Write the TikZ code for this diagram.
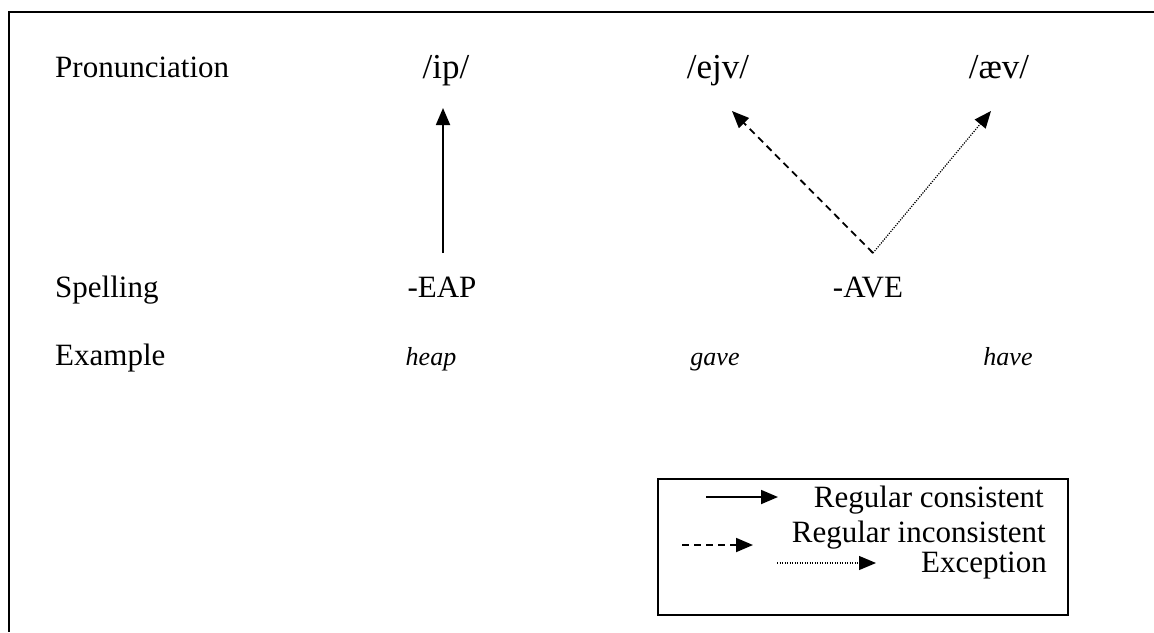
\documentclass[tikz,border=0pt]{standalone}
\usepackage{fontspec}
\setmainfont{Liberation Serif}
\usetikzlibrary{arrows.meta}
\begin{document}
\begin{tikzpicture}[x=1pt,y=-1pt,
  lbl/.style={inner sep=0pt,font=\fontsize{31}{35}\selectfont},
  phon/.style={inner sep=0pt,font=\fontsize{35}{39}\selectfont},
  exw/.style={inner sep=0pt,font=\fontsize{26}{30}\selectfont\itshape},
  tip/.style={-{Triangle[length=17pt,width=14pt]}},
  regcons/.style={tip,line width=1.8pt},
  reginc/.style={tip,line width=1.8pt,dash pattern=on 7pt off 5pt},
  excep/.style={tip,line width=1.2pt,dash pattern=on 1.2pt off 1.3pt},
  frame/.style={line width=2pt}]
\useasboundingbox (0,0) rectangle (1154,632);
% frame
\coordinate (ftr) at (1154,12);
\coordinate (ftl) at (9,12);
\coordinate (fbl) at (9,632);
\draw[frame] (ftr) -- (ftl) -- (fbl);
% rows
\node[lbl,anchor=base west] (pron) at (55,77) {Pronunciation};
\node[phon,anchor=base] (ip) at (446,78) {/ip/};
\node[phon,anchor=base] (ejv) at (718,78) {/ejv/};
\node[phon,anchor=base] (aev) at (999,78) {/æv/};
\node[lbl,anchor=base west] (spell) at (55,297) {Spelling};
\node[lbl,anchor=base] (eap) at (442,297) {-EAP};
\node[lbl,anchor=base] (ave) at (868,297) {-AVE};
\node[lbl,anchor=base west] (ex) at (55,365) {Example};
\node[exw,anchor=base] (heap) at (431,365) {heap};
\node[exw,anchor=base] (gave) at (715,365) {gave};
\node[exw,anchor=base] (have) at (1008,365) {have};
% arrow ends
\coordinate (eapT) at (443,253);
\coordinate (ipB) at (443,108);
\coordinate (aveT) at (873,253);
\coordinate (ejvB) at (732,111);
\coordinate (aevB) at (991,111);
\draw[regcons] (eapT) -- (ipB);
\draw[reginc] (aveT) -- (ejvB);
\draw[excep] (aveT) -- (aevB);
% legend
\node[draw,line width=2pt,minimum width=410pt,minimum height=136pt,anchor=north west,inner sep=0pt] (legend) at (657,478) {};
\coordinate (l1a) at (706,497); \coordinate (l1b) at (778,497);
\coordinate (l2a) at (682,545); \coordinate (l2b) at (753,545);
\coordinate (l3a) at (777,563); \coordinate (l3b) at (876,563);
\draw[regcons] (l1a) -- (l1b);
\draw[reginc] (l2a) -- (l2b);
\draw[excep] (l3a) -- (l3b);
\node[lbl,anchor=base east] (t1) at (1044,507) {Regular consistent};
\node[lbl,anchor=base east] (t2) at (1046,542) {Regular inconsistent};
\node[lbl,anchor=base east] (t3) at (1047,572) {Exception};
\end{tikzpicture}
\end{document}
